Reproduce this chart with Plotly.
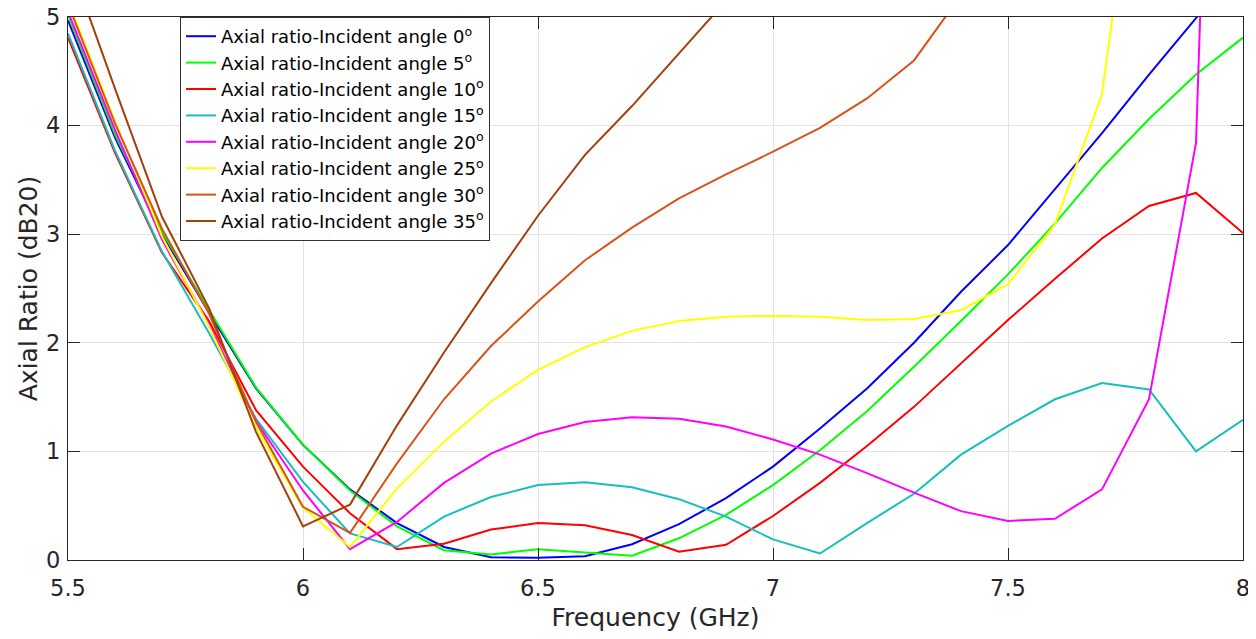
import plotly.graph_objects as go

freq = [5.5, 5.6, 5.7, 5.8, 5.9, 6.0, 6.1, 6.2, 6.3, 6.4, 6.5, 6.6, 6.7,
        6.8, 6.9, 7.0, 7.1, 7.2, 7.3, 7.4, 7.5, 7.6, 7.7, 7.8, 7.9, 8.0]

ar_0 = [4.97, 3.89, 3.00, 2.28, 1.58, 1.06, 0.65, 0.34, 0.12, 0.025, 0.02, 0.035, 0.145,
        0.33, 0.57, 0.86, 1.21, 1.58, 2.00, 2.47, 2.90, 3.41, 3.93, 4.47, 4.99, 5.55]
ar_5 = [5.02, 3.92, 3.02, 2.31, 1.59, 1.06, 0.64, 0.31, 0.09, 0.05, 0.10, 0.07, 0.04,
        0.20, 0.415, 0.69, 1.01, 1.37, 1.78, 2.20, 2.63, 3.10, 3.61, 4.06, 4.47, 4.81]
ar_10 = [4.81, 3.75, 2.83, 2.20, 1.38, 0.86, 0.43, 0.10, 0.15, 0.28, 0.34, 0.32, 0.23,
         0.077, 0.14, 0.405, 0.71, 1.05, 1.41, 1.81, 2.21, 2.59, 2.96, 3.26, 3.38, 3.01]
ar_15 = [4.85, 3.77, 2.84, 2.09, 1.30, 0.72, 0.245, 0.12, 0.40, 0.58, 0.69, 0.716, 0.67,
         0.56, 0.40, 0.19, 0.06, 0.34, 0.61, 0.97, 1.235, 1.48, 1.63, 1.57, 1.00, 1.29]
ar_20 = [5.05, 3.96, 2.95, 2.17, 1.28, 0.64, 0.10, 0.35, 0.71, 0.98, 1.16, 1.27, 1.315,
         1.30, 1.23, 1.11, 0.97, 0.80, 0.62, 0.45, 0.36, 0.38, 0.65, 1.48, 3.84, 17.0]
ar_25 = [5.15, 4.04, 2.98, 2.15, 1.22, 0.48, 0.12, 0.66, 1.09, 1.46, 1.75, 1.96, 2.11,
         2.20, 2.24, 2.25, 2.24, 2.21, 2.22, 2.30, 2.54, 3.09, 4.29, 7.50, None, None]
ar_30 = [5.12, 4.02, 3.05, 2.27, 1.27, 0.49, 0.25, 0.89, 1.48, 1.97, 2.38, 2.76, 3.06,
         3.33, 3.55, 3.76, 3.98, 4.25, 4.60, 5.20, None, None, None, None, None, None]
ar_35 = [5.55, 4.34, 3.16, 2.32, 1.18, 0.31, 0.51, 1.24, 1.91, 2.55, 3.17, 3.73, 4.18,
         4.67, 5.15, None, None, None, None, None, None, None, None, None, None, None]

angles = ["0", "5", "10", "15", "20", "25", "30", "35"]
series = [ar_0, ar_5, ar_10, ar_15, ar_20, ar_25, ar_30, ar_35]
colors = ["#0000FF", "#00FF00", "#FF0000", "#17BEBE", "#FF00FF", "#FFFF00", "#D95319", "#A2400E"]

x_ticks = [5.5, 6, 6.5, 7, 7.5, 8]
x_ticktext = ["5.5", "6", "6.5", "7", "7.5", "8"]
y_ticks = [0, 1, 2, 3, 4, 5]

fig = go.Figure()
for ang, vals, col in zip(angles, series, colors):
    fig.add_trace(go.Scatter(
        x=freq, y=vals, mode="lines",
        name=f"Axial ratio-Incident angle {ang}<sup>o</sup>",
        line=dict(color=col, width=2),
        connectgaps=False,
    ))

font_family = "DejaVu Sans, Liberation Sans, Arial, sans-serif"
axis_color = "#262626"

# the page body adds an 8 px offset, so margins are reduced accordingly
fig.update_layout(
    width=1256, height=639,
    margin=dict(l=60, r=21, t=9, b=87),
    paper_bgcolor="white", plot_bgcolor="white",
    font=dict(family=font_family, color=axis_color),
    showlegend=True,
    legend=dict(
        x=(180 - 68) / 1175, y=1.0, xanchor="left", yanchor="top",
        bgcolor="white", bordercolor="#333333", borderwidth=1,
        font=dict(size=18, color="#000000", family=font_family),
        tracegroupgap=0,
    ),
)

fig.update_xaxes(
    range=[5.5, 8], tickvals=x_ticks, ticktext=x_ticktext,
    automargin=False, ticklabeloverflow="allow",
    showline=True, linecolor=axis_color, linewidth=1.3, mirror="ticks",
    ticks="inside", ticklen=12, tickcolor=axis_color, tickwidth=1.3,
    showgrid=True, gridcolor="#e3e3e3", gridwidth=1,
    zeroline=False, ticklabelstandoff=8,
    tickfont=dict(size=22.5, color=axis_color),
    title=dict(text="Frequency (GHz)", font=dict(size=25, color=axis_color), standoff=8),
)
fig.update_yaxes(
    range=[0, 5], tickvals=y_ticks,
    automargin=False, ticklabeloverflow="allow",
    showline=True, linecolor=axis_color, linewidth=1.3, mirror="ticks",
    ticks="inside", ticklen=12, tickcolor=axis_color, tickwidth=1.3,
    showgrid=True, gridcolor="#e3e3e3", gridwidth=1,
    zeroline=False, ticklabelstandoff=2,
    tickfont=dict(size=22.5, color=axis_color),
    title=dict(text="Axial Ratio (dB20)", font=dict(size=25, color=axis_color), standoff=1),
)

fig.write_html("out.html")
